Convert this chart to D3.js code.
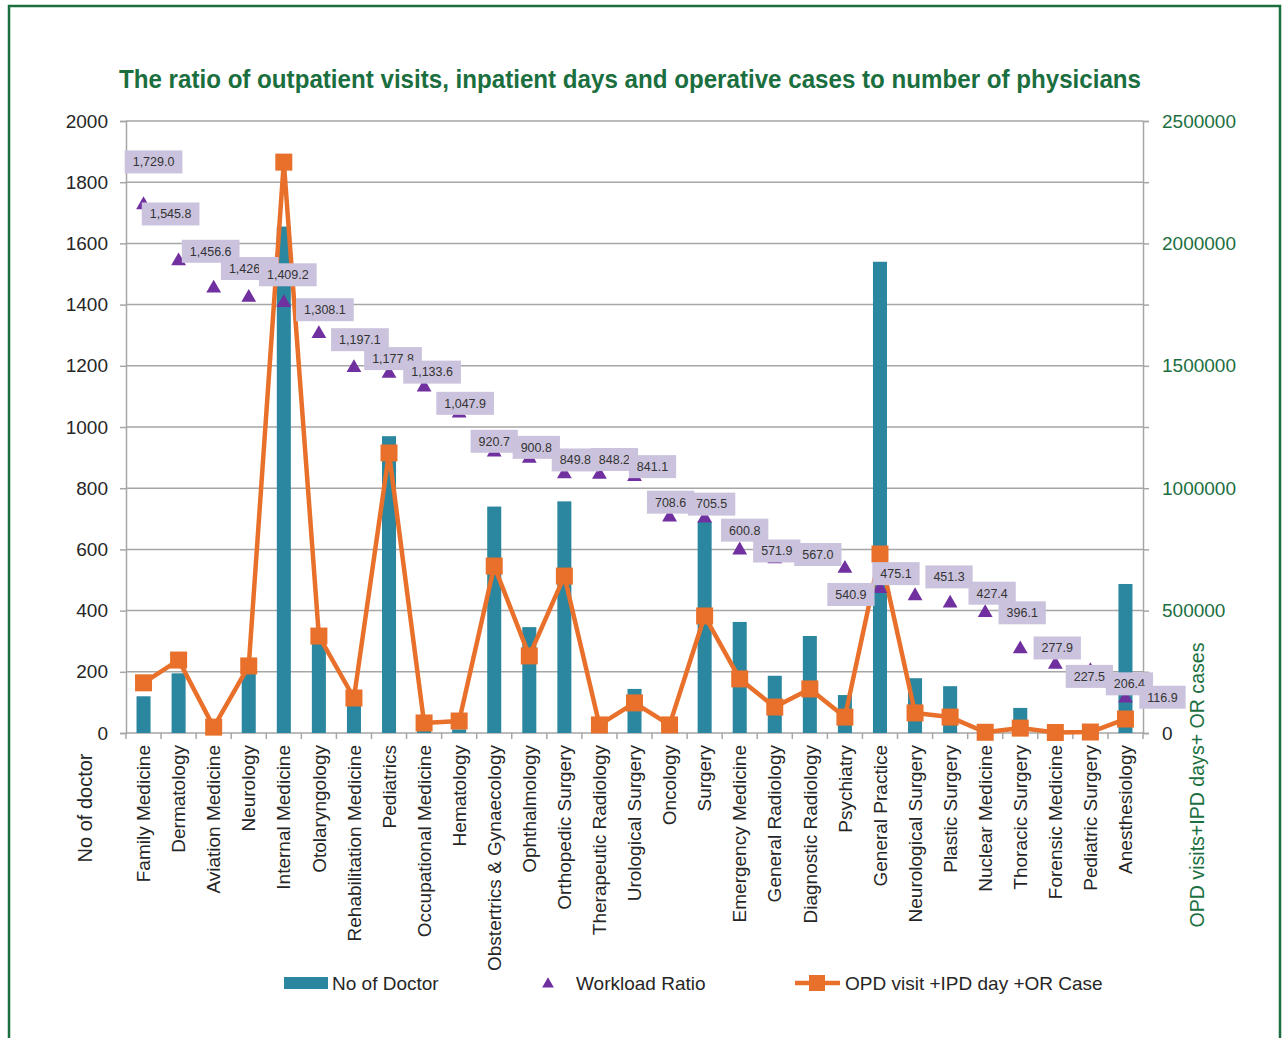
<!DOCTYPE html>
<html>
<head>
<meta charset="utf-8">
<script src="https://cdn.jsdelivr.net/npm/d3@7"></script>
<style>
  html, body { margin: 0; padding: 0; background: #fff; }
  svg { display: block; font-family: "Liberation Sans", Arial, sans-serif; }
</style>
</head>
<body>
<svg id="chart" width="1285" height="1038"></svg>
<script>
// Specialties, in display order
const categories = [
  "Family Medicine", "Dermatology", "Aviation Medicine", "Neurology", "Internal Medicine",
  "Otolaryngology", "Rehabilitation Medicine", "Pediatrics", "Occupational Medicine", "Hematology",
  "Obstertrics & Gynaecology", "Ophthalmology", "Orthopedic Surgery", "Therapeutic Radiology",
  "Urological Surgery", "Oncology", "Surgery", "Emergency Medicine", "General Radiology",
  "Diagnostic Radiology", "Psychiatry", "General Practice", "Neurological Surgery", "Plastic Surgery",
  "Nuclear Medicine", "Thoracic Surgery", "Forensic Medicine", "Pediatric Surgery", "Anesthesiology"
];

// Number of doctors per specialty (left axis)
const doctors = [
  120, 195, 5, 195, 1655, 320, 110, 970, 8, 12,
  740, 346, 757, 5, 144, 5, 690, 363, 187,
  317, 124, 1540, 179, 153, 5, 82, 3, 3, 487
];

// OPD visits + IPD days + OR cases (right axis)
const workload = [
  205000, 298000, 24000, 274000, 2332000, 396000, 143000, 1144000, 41000, 49000,
  682000, 315000, 641000, 33000, 123000, 33000, 478000, 221000, 106000,
  180000, 65000, 731000, 82000, 65000, 3000, 20000, 2000, 4000, 57000
];

// Workload ratio per doctor (left axis)
const ratio = [
  1729.0, 1545.8, 1456.6, 1426.4, 1409.2, 1308.1, 1197.1, 1177.8, 1133.6, 1047.9,
  920.7, 900.8, 849.8, 848.2, 841.1, 708.6, 705.5, 600.8, 571.9,
  567.0, 540.9, 475.1, 451.3, 427.4, 396.1, 277.9, 227.5, 206.4, 116.9
];

// Left and right axis tick values
const leftTicks = [0, 200, 400, 600, 800, 1000, 1200, 1400, 1600, 1800, 2000];
const rightTicks = [0, 500000, 1000000, 1500000, 2000000, 2500000];

// Hand-placed data label offsets (label centre relative to its marker, px)
const labelShift = [
  [10, -42], [-8, -46], [-3, -36], [1, -28], [4, -27], [6, -23], [6, -27], [4, -14], [8, -14], [6, -9],
  [0, -10], [7, -10], [11, -13], [15, -14], [18, -9], [1, -14], [7, -13], [5, -19], [2, -7],
  [8, -5], [6, 27], [16, -14], [34, -18], [42, -9], [37, 1], [37, 0], [34, 13], [39, 14], [37, 0]
];

const C = {
  green: "#1b6f3f",
  teal: "#2b879f",
  orange: "#e8702a",
  purple: "#7030a0",
  grid: "#a6a6a6",
  label: "#cbc3dd",
  text: "#262626"
};

const svg = d3.select("#chart");
const plot = { left: 126, right: 1143, top: 121, bottom: 733 };

const x = d3.scaleBand().domain(categories).range([plot.left, plot.right]).padding(0);
const yL = d3.scaleLinear().domain([0, 2000]).range([plot.bottom, plot.top]);
const yR = d3.scaleLinear().domain([0, 2500000]).range([plot.bottom, plot.top]);
const cx = d => x(d) + x.bandwidth() / 2;

// Frame
svg.append("rect")
  .attr("x", 9).attr("y", 6).attr("width", 1271).attr("height", 1060)
  .attr("fill", "none").attr("stroke", C.green).attr("stroke-width", 2.5);

// Title
svg.append("text")
  .attr("x", 630).attr("y", 88)
  .attr("text-anchor", "middle")
  .attr("font-size", 26).attr("font-weight", "bold")
  .attr("fill", C.green)
  .attr("textLength", 1022).attr("lengthAdjust", "spacingAndGlyphs")
  .text("The ratio of outpatient visits, inpatient days and operative cases to number of physicians");

// Horizontal gridlines
svg.append("g").selectAll("line").data(leftTicks.slice(1)).join("line")
  .attr("x1", plot.left).attr("x2", plot.right)
  .attr("y1", d => yL(d)).attr("y2", d => yL(d))
  .attr("stroke", C.grid).attr("stroke-width", 1.5);

// Left axis
const gL = svg.append("g").attr("transform", `translate(${plot.left},0)`)
  .call(d3.axisLeft(yL).tickValues(leftTicks).tickSize(6).tickPadding(12).tickFormat(d3.format("d")));
gL.select(".domain").attr("stroke", C.grid).attr("stroke-width", 1.5);
gL.selectAll(".tick line").attr("stroke", C.grid).attr("stroke-width", 1.5);
gL.selectAll(".tick text").attr("font-size", 19).attr("fill", C.text)
  .attr("font-family", "'Liberation Sans', Arial, sans-serif");

// Right axis: labelled major ticks plus unlabelled minor ticks
const gR = svg.append("g").attr("transform", `translate(${plot.right},0)`)
  .call(d3.axisRight(yR).tickValues(d3.range(0, 2500001, 250000)).tickSize(6).tickPadding(13)
    .tickFormat(d => rightTicks.includes(d) ? d3.format("d")(d) : ""));
gR.select(".domain").attr("stroke", C.grid).attr("stroke-width", 1.5);
gR.selectAll(".tick line").attr("stroke", C.grid).attr("stroke-width", 1.5);
gR.selectAll(".tick text").attr("font-size", 19)
  .attr("font-family", "'Liberation Sans', Arial, sans-serif")
  .attr("fill", d => d === 0 ? C.text : C.green);

// Bottom axis line and category boundary ticks
svg.append("line")
  .attr("x1", plot.left).attr("x2", plot.right)
  .attr("y1", plot.bottom).attr("y2", plot.bottom)
  .attr("stroke", C.grid).attr("stroke-width", 1.5);
svg.append("g").selectAll("line").data(d3.range(categories.length + 1)).join("line")
  .attr("x1", i => plot.left + i * x.step()).attr("x2", i => plot.left + i * x.step())
  .attr("y1", plot.bottom).attr("y2", plot.bottom + 6)
  .attr("stroke", C.grid).attr("stroke-width", 1.5);

// Category labels
svg.append("g").selectAll("text").data(categories).join("text")
  .attr("transform", d => `translate(${cx(d)},${plot.bottom + 12}) rotate(-90)`)
  .attr("text-anchor", "end").attr("dy", "0.35em")
  .attr("font-size", 19).attr("fill", C.text)
  .text(d => d);

// Axis titles
svg.append("text")
  .attr("transform", "translate(85,808) rotate(-90)")
  .attr("text-anchor", "middle").attr("dy", "0.35em")
  .attr("font-size", 20).attr("fill", C.text)
  .text("No of doctor");
svg.append("text")
  .attr("transform", "translate(1197,785) rotate(-90)")
  .attr("text-anchor", "middle").attr("dy", "0.35em")
  .attr("font-size", 20).attr("fill", C.green)
  .attr("textLength", 285).attr("lengthAdjust", "spacingAndGlyphs")
  .text("OPD visits+IPD days+ OR cases");

// Bars: number of doctors
const barW = x.bandwidth() * 0.4;
svg.append("g").selectAll("rect").data(categories).join("rect")
  .attr("x", d => cx(d) - barW / 2)
  .attr("width", barW)
  .attr("y", (d, i) => yL(doctors[i]))
  .attr("height", (d, i) => plot.bottom - yL(doctors[i]))
  .attr("fill", C.teal);

// Line: OPD + IPD + OR
const line = d3.line().x(d => cx(d[0])).y(d => yR(d[1]));
const linePts = categories.map((c, i) => [c, workload[i]]);
svg.append("path").datum(linePts)
  .attr("d", line).attr("fill", "none")
  .attr("stroke", C.orange).attr("stroke-width", 4.5).attr("stroke-linejoin", "round");
const sq = 17;
svg.append("g").selectAll("rect").data(linePts).join("rect")
  .attr("x", d => cx(d[0]) - sq / 2).attr("y", d => yR(d[1]) - sq / 2)
  .attr("width", sq).attr("height", sq)
  .attr("fill", C.orange);

// Triangles: workload ratio
const tri = d3.symbol().type(d3.symbolTriangle).size(95);
svg.append("g").selectAll("path").data(categories).join("path")
  .attr("transform", (d, i) => `translate(${cx(d)},${yL(ratio[i]) + 1})`)
  .attr("d", tri).attr("fill", C.purple);

// Data labels for the ratio
const fmt = d3.format(",.1f");
const lg = svg.append("g");
categories.forEach((c, i) => {
  const px = cx(c) + labelShift[i][0];
  const py = yL(ratio[i]) + labelShift[i][1];
  const g = lg.append("g").attr("transform", `translate(${px},${py})`);
  const r = g.append("rect").attr("fill", C.label);
  const t = g.append("text")
    .attr("text-anchor", "middle").attr("dy", "0.35em")
    .attr("font-size", 12.5).attr("fill", "#333")
    .text(fmt(ratio[i]));
  const w = t.node().getComputedTextLength() + 16;
  r.attr("x", -w / 2).attr("y", -11.5).attr("width", w).attr("height", 23);
});

// Legend
const leg = svg.append("g").attr("font-size", 19).attr("fill", C.text);
leg.append("rect").attr("x", 284).attr("y", 977).attr("width", 44).attr("height", 12).attr("fill", C.teal);
leg.append("text").attr("x", 332).attr("y", 983).attr("dy", "0.35em").text("No of Doctor");
leg.append("path").attr("transform", "translate(548,984)")
  .attr("d", d3.symbol().type(d3.symbolTriangle).size(60)).attr("fill", C.purple);
leg.append("text").attr("x", 576).attr("y", 983).attr("dy", "0.35em").text("Workload Ratio");
leg.append("line").attr("x1", 795).attr("x2", 840).attr("y1", 983).attr("y2", 983)
  .attr("stroke", C.orange).attr("stroke-width", 4.5);
leg.append("rect").attr("x", 809).attr("y", 975).attr("width", 16).attr("height", 16).attr("fill", C.orange);
leg.append("text").attr("x", 845).attr("y", 983).attr("dy", "0.35em").text("OPD visit +IPD day +OR Case");
</script>
</body>
</html>
